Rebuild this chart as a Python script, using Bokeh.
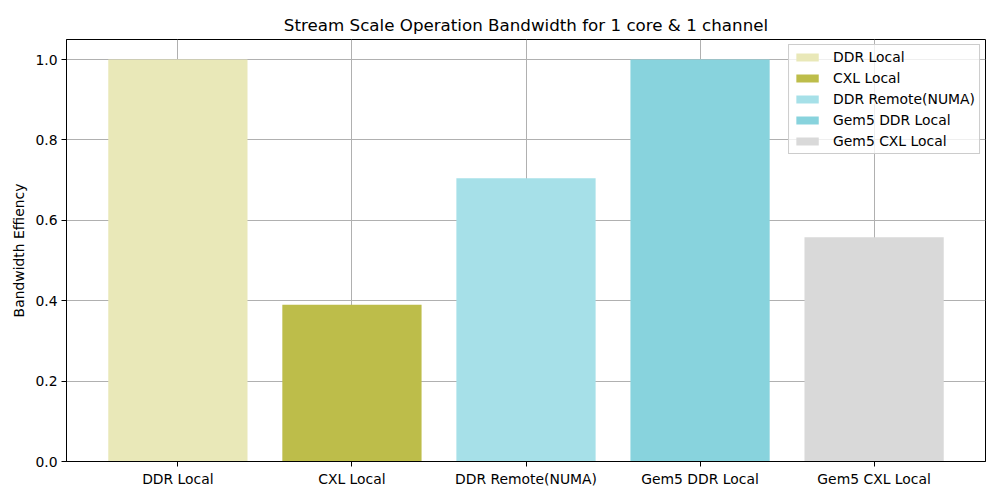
from bokeh.plotting import figure
from bokeh.models import Range1d, FixedTicker, NumeralTickFormatter, ColumnDataSource
from bokeh.embed import file_html
from bokeh.resources import INLINE

categories = ["DDR Local", "CXL Local", "DDR Remote(NUMA)", "Gem5 DDR Local", "Gem5 CXL Local"]
values = [1.0, 0.39, 0.705, 1.0, 0.558]
colors = ["#e9e8b8", "#bdbd4a", "#a6e0e8", "#88d3dd", "#d9d9d9"]
y_ticks = [0.0, 0.2, 0.4, 0.6, 0.8, 1.0]

FONT = "DejaVu Sans"

p = figure(width=1000, height=500, output_backend="svg", toolbar_location=None,
           x_range=Range1d(-0.64, 4.64), y_range=Range1d(0, 1.05),
           title="Stream Scale Operation Bandwidth for 1 core & 1 channel")
p.min_border_left = 66
p.min_border_right = 15
p.min_border_top = 39
p.min_border_bottom = 39

for i, (c, v, col) in enumerate(zip(categories, values, colors)):
    src = ColumnDataSource(dict(x=[i], top=[v]))
    p.vbar(x="x", top="top", width=0.8, bottom=0, source=src, fill_color=col,
           line_color=None, legend_label=c)

p.title.align = "center"
p.title.text_font = FONT
p.title.text_font_size = "16.7px"
p.title.text_font_style = "normal"
p.title.text_color = "black"

p.outline_line_color = "black"
p.outline_line_width = 1
p.outline_line_alpha = 1

p.xaxis.ticker = FixedTicker(ticks=list(range(len(categories))))
p.xaxis.major_label_overrides = {i: c for i, c in enumerate(categories)}
p.yaxis.ticker = FixedTicker(ticks=y_ticks)
p.yaxis.formatter = NumeralTickFormatter(format="0.0")
p.yaxis.axis_label = "Bandwidth Effiency"

for ax in (p.xaxis[0], p.yaxis[0]):
    ax.major_label_text_font = FONT
    ax.major_label_text_font_size = "13.9px"
    ax.major_label_text_color = "black"
    ax.axis_label_text_font = FONT
    ax.axis_label_text_font_size = "13.9px"
    ax.axis_label_text_font_style = "normal"
    ax.axis_label_text_color = "black"
    ax.minor_tick_line_color = None
    ax.major_tick_out = 5
    ax.major_tick_in = 0
    ax.major_tick_line_color = "black"
    ax.axis_line_color = "black"
    ax.major_label_standoff = 4

p.xgrid.grid_line_color = "#b0b0b0"
p.ygrid.grid_line_color = "#b0b0b0"
p.xgrid.grid_line_width = 1
p.ygrid.grid_line_width = 1

p.legend.location = "top_right"
p.legend.label_text_font = FONT
p.legend.label_text_font_size = "13.9px"
p.legend.label_text_color = "black"
p.legend.border_line_color = "#cccccc"
p.legend.border_line_alpha = 1
p.legend.background_fill_alpha = 0.8
p.legend.glyph_width = 28
p.legend.glyph_height = 10
p.legend.spacing = 5
p.legend.label_height = 16
p.legend.padding = 4
p.legend.margin = 5
p.legend.label_standoff = 12

open("out.html", "w").write(file_html(p, INLINE))
